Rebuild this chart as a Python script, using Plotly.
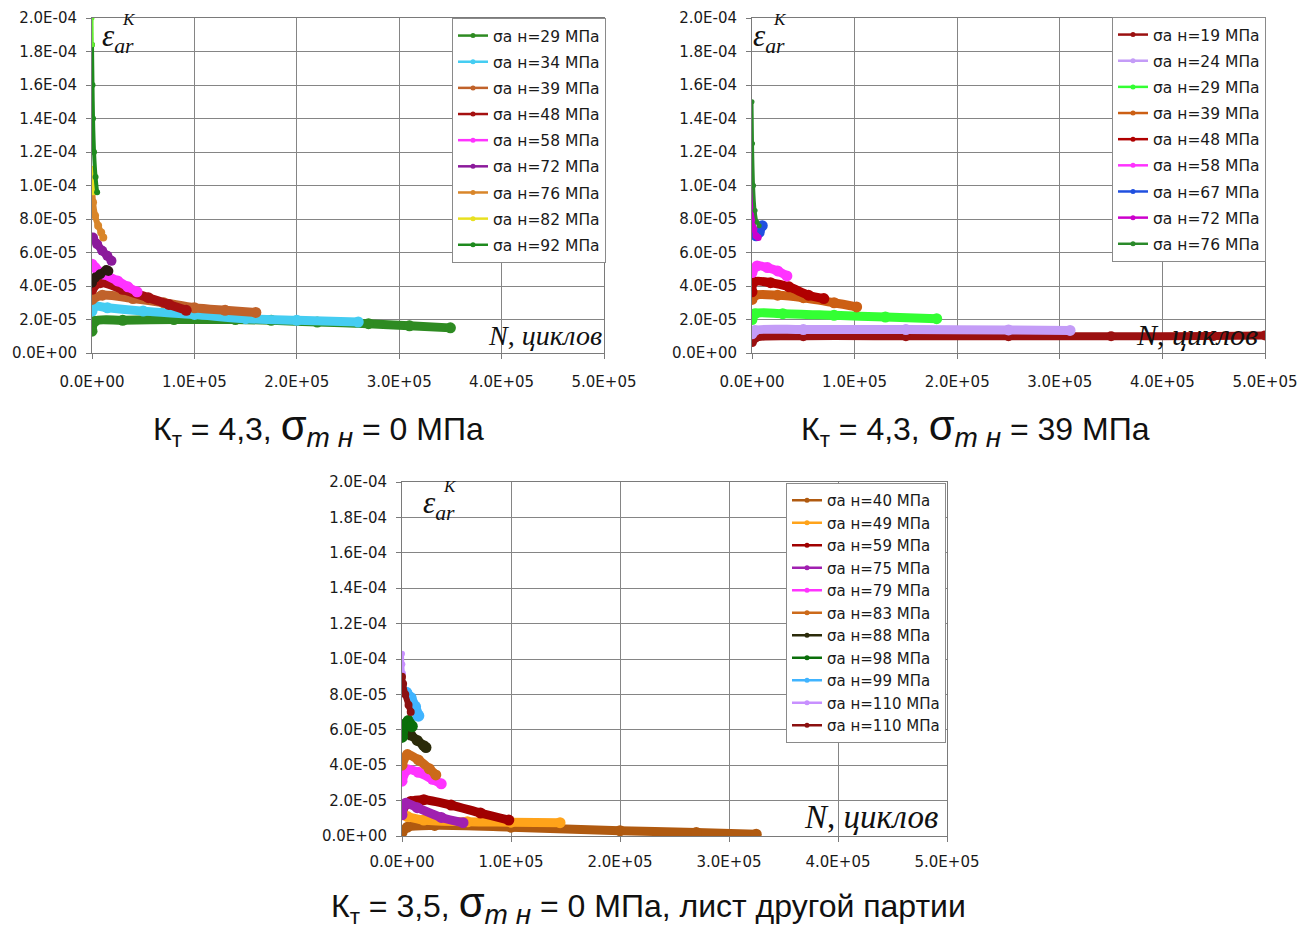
import plotly.graph_objects as go

# ---------------- data ----------------
X_TICKVALS = [0, 100000, 200000, 300000, 400000, 500000]
X_TICKTEXT = ["0.0E+00", "1.0E+05", "2.0E+05", "3.0E+05", "4.0E+05", "5.0E+05"]
Y_TICKVALS = [0, 2e-5, 4e-5, 6e-5, 8e-5, 1e-4, 1.2e-4, 1.4e-4, 1.6e-4, 1.8e-4, 2e-4]
Y_TICKTEXT = ["0.0E+00", "2.0E-05", "4.0E-05", "6.0E-05", "8.0E-05", "1.0E-04",
              "1.2E-04", "1.4E-04", "1.6E-04", "1.8E-04", "2.0E-04"]

# Panel 1: Kt = 4.3, sigma_m = 0 MPa
P1_NAMES = ["σa н=29 МПа", "σa н=34 МПа", "σa н=39 МПа", "σa н=48 МПа", "σa н=58 МПа",
            "σa н=72 МПа", "σa н=76 МПа", "σa н=82 МПа", "σa н=92 МПа"]
P1_X = [
    [0, 3000, 30000, 80000, 140000, 175000, 220000, 270000, 310000, 350000],
    [0, 2000, 15000, 50000, 100000, 150000, 200000, 260000],
    [0, 10000, 40000, 70000, 100000, 130000, 160000],
    [0, 8000, 30000, 55000, 75000, 92000],
    [0, 3000, 12000, 25000, 35000, 44000],
    [1000, 5000, 10000, 15000, 19000],
    [0, 1000, 3000, 6000, 9000, 11000],
    [0, 500, 1500],
    [0, 500, 1000, 2000, 3500, 5000],
]
P1_Y = [
    [1.3e-5, 1.9e-5, 1.95e-5, 2.0e-5, 2.0e-5, 1.95e-5, 1.85e-5, 1.75e-5, 1.62e-5, 1.5e-5],
    [2.5e-5, 2.8e-5, 2.7e-5, 2.5e-5, 2.3e-5, 2.05e-5, 1.95e-5, 1.85e-5],
    [3.2e-5, 3.45e-5, 3.25e-5, 3.0e-5, 2.7e-5, 2.55e-5, 2.42e-5],
    [3.8e-5, 4.2e-5, 3.8e-5, 3.3e-5, 2.9e-5, 2.55e-5],
    [5.3e-5, 5.1e-5, 4.7e-5, 4.3e-5, 3.95e-5, 3.65e-5],
    [6.9e-5, 6.5e-5, 6.1e-5, 5.8e-5, 5.5e-5],
    [1.0e-4, 9.0e-5, 8.2e-5, 7.6e-5, 7.2e-5, 6.9e-5],
    [1.1e-4, 1.03e-4, 9.6e-5],
    [1.84e-4, 1.6e-4, 1.4e-4, 1.2e-4, 1.05e-4, 9.6e-5],
]
P1_EXTRA_X = [[0, 3000, 8000, 14000, 16000], [0, 300]]
P1_EXTRA_Y = [[4.2e-5, 4.5e-5, 4.7e-5, 4.95e-5, 4.9e-5], [2.0e-4, 1.84e-4]]

# Panel 2: Kt = 4.3, sigma_m = 39 MPa
P2_NAMES = ["σa н=19 МПа", "σa н=24 МПа", "σa н=29 МПа", "σa н=39 МПа", "σa н=48 МПа",
            "σa н=58 МПа", "σa н=67 МПа", "σa н=72 МПа", "σa н=76 МПа"]
P2_X = [
    [0, 3000, 50000, 150000, 250000, 350000, 450000, 500000],
    [0, 3000, 50000, 150000, 250000, 310000],
    [0, 3000, 30000, 80000, 130000, 180000],
    [0, 3000, 25000, 50000, 80000, 102000],
    [0, 1500, 18000, 36000, 55000, 70000],
    [0, 5000, 15000, 25000, 34000],
    [1000, 4000, 7000, 10000],
    [0, 500, 2000, 4000, 6000],
    [0, 500, 1500, 3000, 5000, 7000],
]
P2_Y = [
    [6.5e-6, 9.0e-6, 1.0e-5, 1.0e-5, 1.0e-5, 1.0e-5, 1.02e-5, 1.05e-5],
    [1.15e-5, 1.35e-5, 1.4e-5, 1.4e-5, 1.38e-5, 1.35e-5],
    [2.0e-5, 2.35e-5, 2.35e-5, 2.25e-5, 2.15e-5, 2.05e-5],
    [3.2e-5, 3.45e-5, 3.45e-5, 3.3e-5, 3.0e-5, 2.75e-5],
    [3.65e-5, 4.25e-5, 4.2e-5, 3.95e-5, 3.45e-5, 3.25e-5],
    [4.8e-5, 5.2e-5, 5.1e-5, 4.9e-5, 4.6e-5],
    [7.2e-5, 7.0e-5, 7.2e-5, 7.6e-5],
    [1.0e-4, 8.5e-5, 7.4e-5, 7.0e-5, 6.9e-5],
    [1.5e-4, 1.25e-4, 1.0e-4, 8.5e-5, 7.8e-5, 7.6e-5],
]

# Panel 3: Kt = 3.5, sigma_m = 0 MPa, other batch
P3_NAMES = ["σa н=40 МПа", "σa н=49 МПа", "σa н=59 МПа", "σa н=75 МПа", "σa н=79 МПа",
            "σa н=83 МПа", "σa н=88 МПа", "σa н=98 МПа", "σa н=99 МПа", "σa н=110 МПа",
            "σa н=110 МПа"]
P3_X = [
    [0, 5000, 30000, 100000, 200000, 270000, 325000],
    [5000, 20000, 60000, 100000, 145000],
    [1000, 8000, 20000, 45000, 72000, 98000],
    [0, 3500, 14000, 36000, 56000],
    [0, 5000, 15000, 28000, 36000],
    [0, 5000, 15000, 25000, 31000],
    [2000, 8000, 14000, 20000, 22000],
    [0, 3000, 6000, 9000],
    [4000, 8000, 12000, 15000],
    [0, 300, 800],
    [0, 1000, 3000, 6000, 8000],
]
P3_Y = [
    [2.0e-6, 5.0e-6, 6.0e-6, 5.0e-6, 3.0e-6, 2.0e-6, 1.0e-6],
    [1.1e-5, 9.0e-6, 8.0e-6, 7.8e-6, 7.5e-6],
    [1.6e-5, 1.95e-5, 2.05e-5, 1.75e-5, 1.3e-5, 9.0e-6],
    [1.2e-5, 1.85e-5, 1.6e-5, 1.05e-5, 7.5e-6],
    [3.1e-5, 3.75e-5, 3.6e-5, 3.2e-5, 2.95e-5],
    [4.0e-5, 4.6e-5, 4.3e-5, 3.8e-5, 3.45e-5],
    [5.9e-5, 5.7e-5, 5.4e-5, 5.1e-5, 5.0e-5],
    [5.6e-5, 6.3e-5, 6.5e-5, 6.2e-5],
    [8.1e-5, 7.8e-5, 7.3e-5, 6.8e-5],
    [1.03e-4, 9.7e-5, 9.2e-5],
    [9.0e-5, 8.6e-5, 8.0e-5, 7.4e-5, 7.0e-5],
]

# ---------------- styles ----------------
P1_COLORS = ["#2e8b22", "#45cdf2", "#c0622a", "#a51010", "#ff33ff",
             "#8b1a9b", "#d9862a", "#e8e020", "#1e8a1e"]
P1_WIDTHS = [9, 9, 9, 9, 9, 8, 6, 4, 4]
P1_EXTRA_COLORS = ["#2a1a10", "#66ee33"]
P1_EXTRA_WIDTHS = [8, 3]

P2_COLORS = ["#9b1010", "#c49cf7", "#33ff33", "#cc5f14", "#b00000",
             "#ff33ff", "#2050e0", "#cc00cc", "#2a8a2a"]
P2_WIDTHS = [8, 9, 9, 9, 9, 9, 9, 5, 3]

P3_COLORS = ["#b05a10", "#ffa31a", "#a00000", "#a020b0", "#ff33ff",
             "#cc6a1a", "#2b2b0a", "#0a6e0a", "#40b4ff", "#c890ff", "#8b1010"]
P3_WIDTHS = [9, 9, 9, 9, 9, 9, 9, 10, 10, 4, 6]

SANS = "Arial, 'Liberation Sans', sans-serif"
WIDE = "'DejaVu Sans', Verdana, sans-serif"
SERIF = "'Times New Roman', 'Liberation Serif', serif"

fig = go.Figure()


def add_panel(xs, ys, colors, widths, names, xa, ya, legend_id, group_prefix):
    for i, (x, y) in enumerate(zip(xs, ys)):
        fig.add_trace(go.Scatter(
            x=x, y=y, mode="lines+markers", xaxis=xa, yaxis=ya,
            line=dict(color=colors[i], width=widths[i], shape="spline", smoothing=0.8),
            marker=dict(color=colors[i], size=widths[i] + 2),
            showlegend=False, hoverinfo="skip"))
    if names is None:
        return
    for i, name in enumerate(names):
        fig.add_trace(go.Scatter(
            x=[None], y=[None], mode="lines+markers", xaxis=xa, yaxis=ya,
            name=name, legend=legend_id, legendgroup=f"{group_prefix}{i}",
            line=dict(color=colors[i], width=2.5),
            marker=dict(color=colors[i], size=5),
            showlegend=True))


add_panel(P1_X, P1_Y, P1_COLORS, P1_WIDTHS, None, "x", "y", "legend", "a")
add_panel(P1_EXTRA_X, P1_EXTRA_Y, P1_EXTRA_COLORS, P1_EXTRA_WIDTHS, None, "x", "y", "legend", "ax")
add_panel([[None]] * len(P1_NAMES), [[None]] * len(P1_NAMES), P1_COLORS, P1_WIDTHS,
          P1_NAMES, "x", "y", "legend", "a")
add_panel(P2_X, P2_Y, P2_COLORS, P2_WIDTHS, P2_NAMES, "x2", "y2", "legend2", "b")
add_panel(P3_X, P3_Y, P3_COLORS, P3_WIDTHS, P3_NAMES, "x3", "y3", "legend3", "c")

W, H = 1307, 932


def xaxis(dom, anchor, standoff):
    return dict(domain=dom, anchor=anchor, range=[0, 500000], tickmode="array",
                tickvals=X_TICKVALS, ticktext=X_TICKTEXT, showgrid=True,
                gridcolor="#858585", gridwidth=1, showline=True, linecolor="#7a7a7a",
                linewidth=1, mirror=True, ticks="outside", ticklen=5, tickcolor="#7a7a7a",
                tickfont=dict(family=WIDE, size=15, color="#1a1a1a"), zeroline=False,
                ticklabelstandoff=standoff, fixedrange=True, automargin=False)


def yaxis(dom, anchor):
    return dict(domain=dom, anchor=anchor, range=[0, 2e-4], tickmode="array",
                tickvals=Y_TICKVALS, ticktext=Y_TICKTEXT, showgrid=True,
                gridcolor="#858585", gridwidth=1, showline=True, linecolor="#7a7a7a",
                linewidth=1, mirror=True, ticks="outside", ticklen=5, tickcolor="#7a7a7a",
                tickfont=dict(family=WIDE, size=15, color="#1a1a1a"), zeroline=False,
                ticklabelstandoff=6, fixedrange=True, automargin=False)


def px(x):
    return x / W


def py(y):
    return 1 - y / H


def legend(right, top, gap, size):
    return dict(x=px(right), y=py(top), xanchor="right", yanchor="top",
                bgcolor="white", bordercolor="#8a8a8a", borderwidth=1,
                font=dict(family=WIDE, size=size, color="#1a1a1a"),
                traceorder="grouped", tracegroupgap=gap, itemwidth=30)


annotations = []


def text(x, y, s, size, family, xanchor="left", yanchor="middle"):
    annotations.append(dict(x=px(x), y=py(y), xref="paper", yref="paper", text=s,
                            showarrow=False, xanchor=xanchor, yanchor=yanchor,
                            font=dict(family=family, size=size, color="#111111")))


# axis symbol labels
for (ex, ey) in [(100, 38), (751, 38), (421, 505)]:
    text(ex, ey, "<i>ε</i><sub><i>ar</i></sub>", 31, SERIF)
    text(ex + 20, ey - 18, "<i>K</i>", 17, SERIF)
text(604, 335, "<i>N</i>, <i>циклов</i>", 28, SERIF, xanchor="right")
text(1260, 334, "<i>N</i>, <i>циклов</i>", 30, SERIF, xanchor="right")
text(940, 817, "<i>N</i>, <i>циклов</i>", 33, SERIF, xanchor="right")

SIG = "<span style='font-size:42px'>σ</span><sub><span style='font-size:28px'><i>m н</i></span></sub>"
text(318, 428, "К<sub>т</sub> = 4,3, " + SIG + " = 0 МПа", 32, SANS, xanchor="center")
text(976, 428, "К<sub>т</sub> = 4,3, " + SIG + " = 39 МПа", 32, SANS, xanchor="center")
text(648, 904, "К<sub>т</sub> = 3,5, " + SIG + " = 0 МПа, лист другой партии", 32, SANS,
     xanchor="center")

fig.update_layout(
    width=W, height=H, autosize=False,
    margin=dict(l=0, r=0, t=0, b=0, pad=0, autoexpand=False),
    paper_bgcolor="white", plot_bgcolor="white",
    xaxis=xaxis([px(92), px(604)], "y", 10),
    yaxis=yaxis([py(353), py(18)], "x"),
    xaxis2=xaxis([px(752), px(1265)], "y2", 10),
    yaxis2=yaxis([py(353), py(18)], "x2"),
    xaxis3=xaxis([px(402), px(947)], "y3", 7),
    yaxis3=yaxis([py(836), py(482)], "x3"),
    legend=legend(606, 18, 3, 15.5),
    legend2=legend(1266, 17, 3, 15.5),
    legend3=legend(946, 483, 0, 15),
    annotations=annotations,
    showlegend=True,
)

fig.write_html("out.html")
